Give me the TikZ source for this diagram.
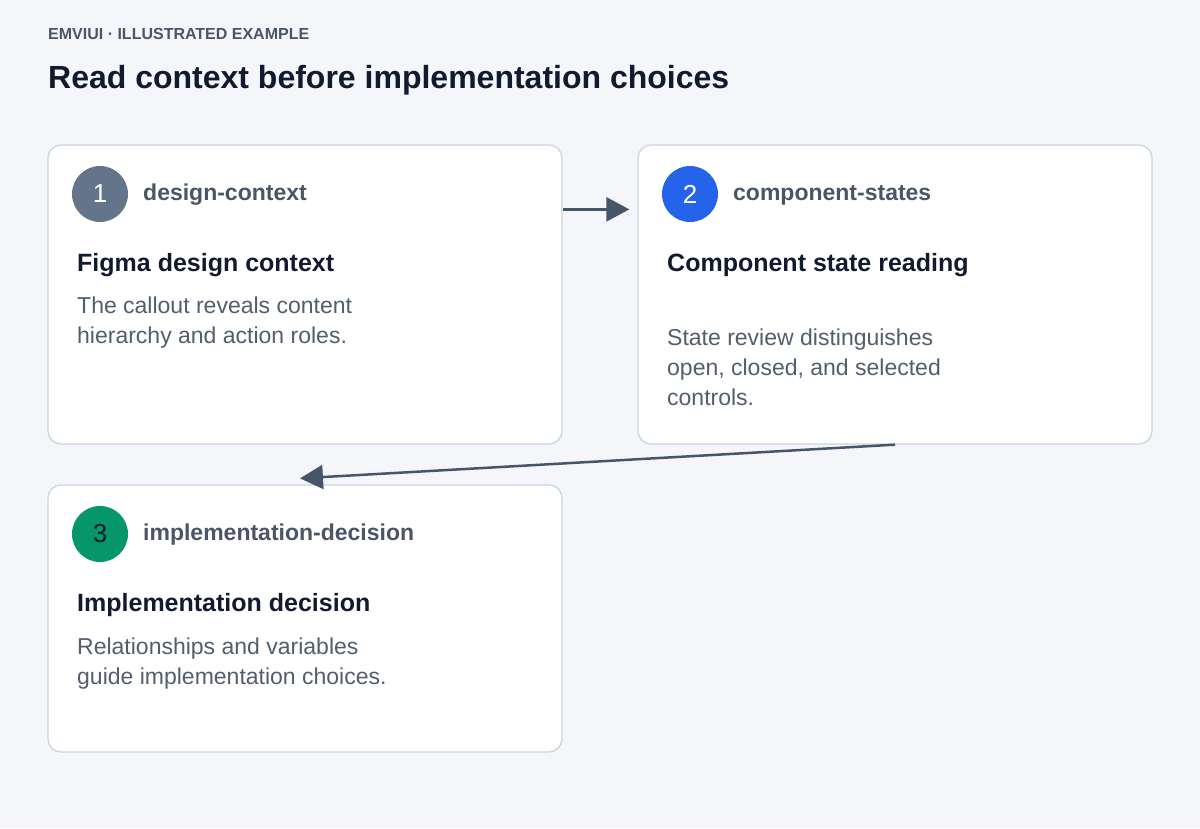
\documentclass[tikz,border=0pt]{standalone}
\usepackage{fontspec}
\setmainfont{Liberation Sans}
\usetikzlibrary{arrows.meta}
\definecolor{bg}{HTML}{F4F6FA}
\definecolor{bord}{HTML}{CBD5E1}
\definecolor{lbl}{HTML}{4B5567}
\definecolor{bodyc}{HTML}{525E6E}
\definecolor{ttl}{HTML}{111A2E}
\definecolor{arrc}{HTML}{475569}
\definecolor{c1}{HTML}{64748B}
\definecolor{c2}{HTML}{2563EB}
\definecolor{c3}{HTML}{059669}
\tikzset{
  card/.style={draw=bord, line width=1.3pt, fill=white, rounded corners=13pt, inner sep=0pt, minimum width=514pt},
  badge/.style={circle, minimum size=56pt, inner sep=0pt, font=\fontsize{26}{30}\selectfont},
  tag/.style={anchor=base west, inner sep=0pt, text=lbl, font=\fontsize{23}{27}\selectfont\bfseries},
  head/.style={anchor=base west, inner sep=0pt, text=ttl, font=\fontsize{25}{29}\selectfont\bfseries},
  bodytext/.style={anchor=base west, inner sep=0pt, text=bodyc, align=left, font=\fontsize{23}{29.6}\selectfont},
  arr/.style={draw=arrc, line width=2.5pt, -{Triangle[length=23pt,width=24pt]}},
}
\begin{document}
\begin{tikzpicture}[x=1pt,y=-1pt]
\useasboundingbox (0,0) rectangle (1200,828);
\fill[bg] (0,0) rectangle (1200,828);
\node[anchor=base west, inner sep=0pt, text=lbl, font=\fontsize{16}{18}\selectfont\bfseries] (kicker) at (48,39.5) {EMVIUI · ILLUSTRATED EXAMPLE};
\node[anchor=base west, inner sep=0pt, text=ttl, font=\fontsize{32}{36}\selectfont\bfseries] (title) at (48,88) {Read context before implementation choices};

\node[card, minimum height=299pt] (box1) at (305,294.5) {};
\node[card, minimum height=299pt] (box2) at (895,294.5) {};
\node[card, minimum height=267pt] (box3) at (305,618.5) {};

\node[badge, fill=c1, text=white] (n1) at (100,194) {1};
\node[tag] (t1) at (143,200) {design-context};
\node[head] (h1) at (77,271) {Figma design context};
\node[bodytext] (b1) at (77,343) {The callout reveals content\\hierarchy and action roles.};

\node[badge, fill=c2, text=white] (n2) at (690,194) {2};
\node[tag] (t2) at (733,200) {component-states};
\node[head] (h2) at (667,271) {Component state reading};
\node[bodytext] (b2) at (667,405) {State review distinguishes\\open, closed, and selected\\controls.};

\node[badge, fill=c3, text=ttl] (n3) at (100,534) {3};
\node[tag] (t3) at (143,540) {implementation-decision};
\node[head] (h3) at (77,611) {Implementation decision};
\node[bodytext] (b3) at (77,684) {Relationships and variables\\guide implementation choices.};

\draw[arr, shorten >=8pt] ([yshift=-65pt]box1.north east) -- ([yshift=-65pt]box2.north west);
\draw[arr] (box2.south) -- ([xshift=-5pt,yshift=6pt]box3.north);
\end{tikzpicture}
\end{document}
